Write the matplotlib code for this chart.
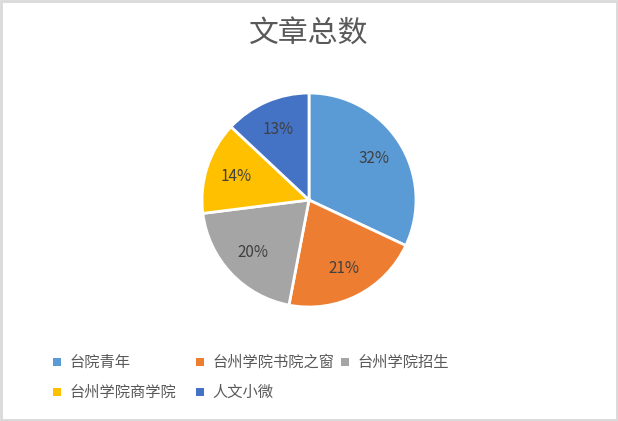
import matplotlib.pyplot as plt
from matplotlib.patches import Rectangle

plt.rcParams['font.family'] = ['Noto Sans CJK SC', 'DejaVu Sans']

title = '文章总数'
labels = ['台院青年', '台州学院书院之窗', '台州学院招生', '台州学院商学院', '人文小微']
shares = [32, 21, 20, 14, 13]
colors = ['#5B9BD5', '#ED7D31', '#A5A5A5', '#FFC000', '#4472C4']

W, H = 618, 421
fig = plt.figure(figsize=(W / 100, H / 100), dpi=100)
fig.patch.set_facecolor('white')
fig.patches.append(Rectangle((0.002, 0.003), 0.996, 0.994, transform=fig.transFigure,
                             fill=False, edgecolor='#D9D9D9', linewidth=2))

ax = fig.add_axes([202 / W, 1 - 307 / H, 214 / W, 214 / H])
wedges, _texts, autotexts = ax.pie(shares, colors=colors, startangle=90, counterclock=False,
                                   autopct='%d%%', pctdistance=0.72,
                                   wedgeprops=dict(edgecolor='white', linewidth=2),
                                   textprops=dict(color='#404040', fontsize=11))
ax.set_xlim(-1.0, 1.0)
ax.set_ylim(-1.0, 1.0)
ax.set_aspect('equal')

fig.text(0.5, 1 - 33 / H, title, ha='center', va='center', fontsize=21.5, color='#595959')

# Excel style legend: equal width columns, filled row by row
col_x = [57, 200, 345]
row_y = [362, 392]
for i, (lab, c) in enumerate(zip(labels, colors)):
    x = col_x[i % 3]
    y = row_y[i // 3]
    fig.patches.append(Rectangle(((x - 4) / W, 1 - (y + 4) / H), 8 / W, 8 / H,
                                 transform=fig.transFigure, facecolor=c, edgecolor='none'))
    fig.text((x + 12) / W, 1 - y / H, lab, ha='left', va='center',
             fontsize=11, color='#595959')

fig.savefig('out.png', dpi=100)
